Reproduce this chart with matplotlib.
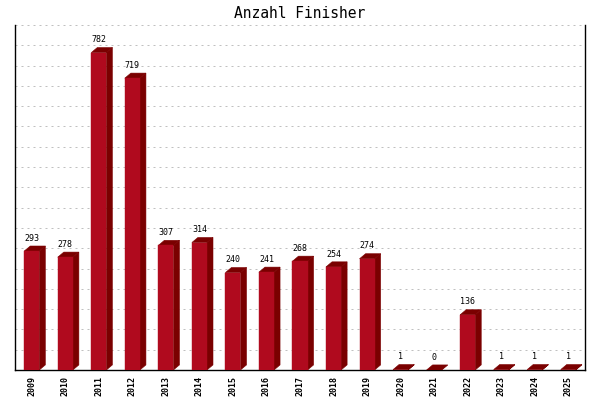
import matplotlib
matplotlib.use("Agg")
import matplotlib.pyplot as plt
from matplotlib.patches import Polygon

years = ["2009", "2010", "2011", "2012", "2013", "2014", "2015", "2016", "2017",
         "2018", "2019", "2020", "2021", "2022", "2023", "2024", "2025"]
finishers = [293, 278, 782, 719, 307, 314, 240, 241, 268, 254, 274, 1, 0, 136, 1, 1, 1]

title = "Anzahl Finisher"
front_color = "#B00A1E"
dark_color = "#7A0000"

fig = plt.figure(figsize=(6, 4), dpi=100)
ax = fig.add_axes([0.025, 0.075, 0.95, 0.8625])
ax.set_xlim(-0.5, len(years) - 0.5)
ax.set_ylim(0, 850)

half = 0.225
dx = 0.18
dy = 12.5

for i, v in enumerate(finishers):
    x0, x1 = i - half, i + half
    # side face
    ax.add_patch(Polygon([(x1, 0), (x1 + dx, dy), (x1 + dx, v + dy), (x1, v)],
                         closed=True, facecolor=dark_color, edgecolor=dark_color,
                         linewidth=0.4, zorder=3))
    # top face
    ax.add_patch(Polygon([(x0, v), (x1, v), (x1 + dx, v + dy), (x0 + dx, v + dy)],
                         closed=True, facecolor=dark_color, edgecolor=dark_color,
                         linewidth=0.4, zorder=3))
    # front face
    if v > 0:
        ax.add_patch(Polygon([(x0, 0), (x1, 0), (x1, v), (x0, v)],
                             closed=True, facecolor=front_color, edgecolor=front_color,
                             linewidth=0.3, zorder=4))
    ax.text(i, v + dy + 8, str(v), ha="center", va="bottom",
            fontsize=6, family="DejaVu Sans Mono", color="black", zorder=5)

ax.set_yticks(range(50, 851, 50))
ax.yaxis.grid(True, color="#C0C0C0", linestyle=(0, (2, 4)), linewidth=0.72)
ax.set_axisbelow(True)
ax.tick_params(axis="y", left=False, labelleft=False)
ax.set_xticks(range(len(years)))
ax.set_xticklabels(years, rotation=90, fontsize=6, family="DejaVu Sans Mono",
                   fontweight="bold")
ax.tick_params(axis="x", length=0, pad=4)

for s in ["left", "right", "bottom"]:
    ax.spines[s].set_color("black")
    ax.spines[s].set_linewidth(1.0)
ax.spines["top"].set_visible(False)

fig.text(0.5, 1 - 13 / 400, title, ha="center", va="center",
         fontsize=10.5, family="DejaVu Sans Mono", color="black")

fig.savefig("out.png", dpi=100)
